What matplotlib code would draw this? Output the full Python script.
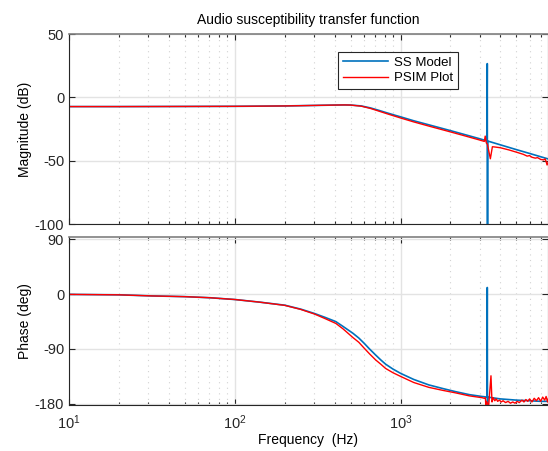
import matplotlib
matplotlib.use("Agg")
import matplotlib.pyplot as plt
from matplotlib.ticker import LogLocator, NullFormatter

plt.rcParams['font.family'] = ['Liberation Sans', 'DejaVu Sans']
plt.rcParams['mathtext.default'] = 'regular'
plt.rcParams['axes.unicode_minus'] = False

# ---- data ----
# SS Model (blue) magnitude
ss_mag_f = [10, 20, 50, 100, 200, 300, 400, 460, 500, 580, 660, 740, 830, 940,
            1000, 1200, 1500, 2000, 2500, 3000, 3320, 3335, 3345, 3355, 4000,
            5000, 6000, 7000, 7800]
ss_mag = [-7.3, -7.3, -7.2, -7.1, -6.8, -6.4, -6.1, -6.0, -6.1, -6.8, -8.4, -10.3,
          -12.3, -14.4, -15.4, -18.5, -21.9, -26.3, -29.8, -32.7, -34.4, 26.6,
          -200, -34.5, -37.5, -41.3, -44.3, -46.9, -48.7]

# PSIM Plot (red) magnitude
psim_mag_f = [10, 20, 50, 100, 200, 300, 400, 460, 500, 580, 660, 740, 830, 940,
              1000, 1200, 1500, 2000, 2500, 3000, 3200, 3240, 3290, 3340, 3480,
              3580, 3700, 4000, 4500, 5000, 5500, 5800, 6000, 6200, 6500, 6700,
              7000, 7300, 7450, 7550, 7650, 7800]
psim_mag = [-7.3, -7.3, -7.2, -7.1, -6.8, -6.4, -6.1, -6.0, -6.1, -7.0, -8.8,
            -10.9, -13.0, -15.2, -16.3, -19.4, -22.9, -27.3, -30.8, -33.7, -34.8,
            -30.6, -36.0, -37.0, -48.5, -39.0, -39.2, -39.8, -41.5, -43.3, -45.0,
            -46.4, -46.0, -47.3, -48.0, -47.6, -49.0, -49.4, -48.6, -50.8, -53.4,
            -50.4]

# SS Model (blue) phase
ss_ph_f = [10, 20, 31.6, 50, 71, 100, 141, 200, 250, 302, 350, 407, 450, 515,
           560, 605, 650, 708, 760, 813, 900, 1000, 1200, 1480, 1800, 2140, 2600,
           3100, 3320, 3335, 3345, 3355, 4000, 5000, 6000, 7000, 7800]
ss_ph = [-0.3, -1.0, -2.8, -4.0, -5.8, -8.7, -13, -18, -24.5, -31.6, -38, -45,
         -53, -64, -72, -81, -90, -100, -108, -115, -123, -130, -140, -149, -155,
         -160, -165, -168, -169, 11, -250, -169, -172, -174, -175, -176, -176]

# PSIM Plot (red) phase
psim_ph_f = [10, 20, 31.6, 50, 71, 100, 141, 200, 250, 302, 350, 407, 450, 515,
             560, 605, 650, 708, 760, 813, 900, 1000, 1200, 1480, 1800, 2140,
             2600, 3100, 3200, 3250, 3270, 3300, 3400, 3510, 3560, 3620, 3700,
             3780, 3850, 3950, 4050, 4150, 4300, 4450, 4600, 4750, 4900, 5050,
             5200, 5400, 5550, 5700, 5850, 6000, 6200, 6400, 6600, 6800, 7000,
             7200, 7400, 7550, 7700, 7800]
psim_ph = [-0.3, -1.0, -2.8, -4.0, -5.8, -8.7, -13, -18.3, -25, -32.5, -40, -48,
           -57, -71, -79, -89, -98, -108, -115, -122, -129, -135, -145, -153,
           -158, -162, -167, -170, -171, -170, -186, -176, -183, -134, -177, -170,
           -175, -172, -176, -174, -177, -175, -178, -176, -179, -177, -179, -176,
           -178, -174, -177, -173, -176, -172, -177, -171, -175, -170, -176, -169,
           -174, -168, -177, -171]

mag_ticks = [-100, -50, 0, 50]
ph_ticks = [-180, -90, 0, 90]

BLUE = '#0072BD'
RED = '#FF0000'
AXC = '#262626'


def style(ax):
    ax.set_xscale('log')
    ax.set_xlim(10, 7750)
    ax.xaxis.set_major_locator(LogLocator(base=10))
    ax.xaxis.set_minor_locator(LogLocator(base=10, subs=range(2, 10)))
    ax.xaxis.set_minor_formatter(NullFormatter())
    ax.grid(True, which='major', color='#e3e3e3', lw=1.0, ls='-')
    ax.grid(True, which='minor', axis='x', color='#d2d2d2', lw=0.8, ls=(0, (1, 4)))
    ax.set_axisbelow(True)
    ax.tick_params(which='both', direction='in', top=True, right=True,
                   colors=AXC, labelsize=10.5, width=0.8)
    ax.tick_params(which='major', length=4)
    ax.tick_params(which='minor', length=2.5)
    for s in ax.spines.values():
        s.set_color(AXC)
        s.set_linewidth(0.8)
    ax.spines['top'].set_color('#7f7f7f')
    ax.spines['top'].set_linewidth(1.2)


fig = plt.figure(figsize=(5.48, 4.51), dpi=100)
ax1 = fig.add_axes([69 / 548, 1 - 224 / 451, 479 / 548, 190 / 451])
ax2 = fig.add_axes([69 / 548, 1 - 405 / 451, 479 / 548, 168 / 451])

ax1.plot(ss_mag_f, ss_mag, color=BLUE, lw=1.2, label='SS Model')
ax1.plot(psim_mag_f, psim_mag, color=RED, lw=1.0, label='PSIM Plot')
style(ax1)
ax1.set_ylim(-100, 50)
ax1.set_yticks(mag_ticks)
ax1.tick_params(axis='x', labelbottom=False)
ax1.set_ylabel('Magnitude (dB)', fontsize=10, labelpad=2)
ax1.set_title('Audio susceptibility transfer function', fontsize=10, pad=7)
leg = ax1.legend(loc='upper right', bbox_to_anchor=(0.812, 0.905), fontsize=9.5,
                 fancybox=False, framealpha=1, edgecolor='#262626',
                 handlelength=3.4, borderpad=0.35, labelspacing=0.25,
                 handletextpad=0.5, borderaxespad=0)
leg.get_frame().set_linewidth(0.8)

ax2.plot(ss_ph_f, ss_ph, color=BLUE, lw=1.2)
ax2.plot(psim_ph_f, psim_ph, color=RED, lw=1.0)
style(ax2)
ax2.set_ylim(-182, 94)
ax2.set_yticks(ph_ticks)
ax2.tick_params(axis='x', pad=6)
ax2.set_ylabel('Phase (deg)', fontsize=10, labelpad=2)
ax2.set_xlabel('Frequency  (Hz)', fontsize=10, labelpad=1)

fig.savefig('out.png', dpi=100)
